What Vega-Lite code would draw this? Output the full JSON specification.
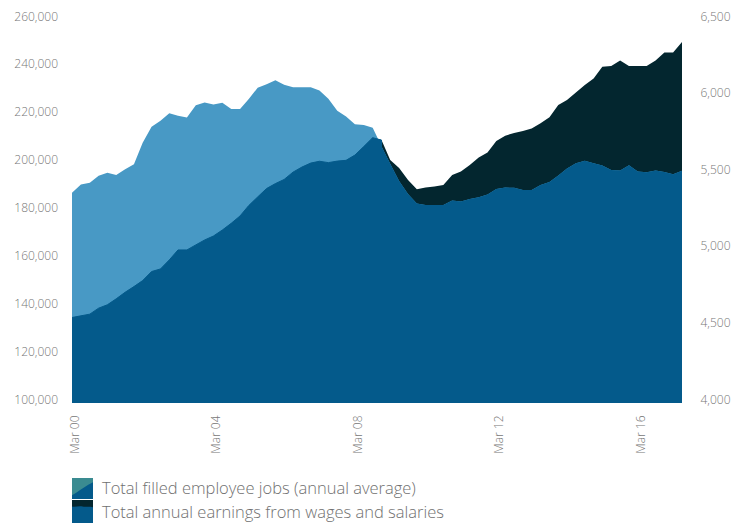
{
  "$schema": "https://vega.github.io/schema/vega-lite/v6.json",
  "autosize": "none",
  "width": 610,
  "height": 383,
  "padding": {"left": 72, "top": 20, "right": 68, "bottom": 124},
  "background": "white",
  "config": {
    "view": {"stroke": null},
    "font": "Open Sans"
  },
  "data": {
    "format": {"parse": {"date": "date"}},
    "values": [
      {"date": "2000/03/01", "jobs": 187800, "earnings": 4558},
      {"date": "2000/06/01", "jobs": 191300, "earnings": 4569},
      {"date": "2000/09/01", "jobs": 192000, "earnings": 4580},
      {"date": "2000/12/01", "jobs": 194900, "earnings": 4619},
      {"date": "2001/03/01", "jobs": 196200, "earnings": 4641},
      {"date": "2001/06/01", "jobs": 195200, "earnings": 4680},
      {"date": "2001/09/01", "jobs": 197600, "earnings": 4723},
      {"date": "2001/12/01", "jobs": 199700, "earnings": 4760},
      {"date": "2002/03/01", "jobs": 208700, "earnings": 4799},
      {"date": "2002/06/01", "jobs": 215400, "earnings": 4858},
      {"date": "2002/09/01", "jobs": 217900, "earnings": 4875},
      {"date": "2002/12/01", "jobs": 221000, "earnings": 4934},
      {"date": "2003/03/01", "jobs": 220000, "earnings": 4999},
      {"date": "2003/06/01", "jobs": 219300, "earnings": 4999},
      {"date": "2003/09/01", "jobs": 224400, "earnings": 5032},
      {"date": "2003/12/01", "jobs": 225500, "earnings": 5064},
      {"date": "2004/03/01", "jobs": 224700, "earnings": 5090},
      {"date": "2004/06/01", "jobs": 225400, "earnings": 5129},
      {"date": "2004/09/01", "jobs": 222800, "earnings": 5173},
      {"date": "2004/12/01", "jobs": 222800, "earnings": 5221},
      {"date": "2005/03/01", "jobs": 227000, "earnings": 5289},
      {"date": "2005/06/01", "jobs": 231700, "earnings": 5345},
      {"date": "2005/09/01", "jobs": 233200, "earnings": 5400},
      {"date": "2005/12/01", "jobs": 234800, "earnings": 5432},
      {"date": "2006/03/01", "jobs": 233000, "earnings": 5459},
      {"date": "2006/06/01", "jobs": 231900, "earnings": 5507},
      {"date": "2006/09/01", "jobs": 231900, "earnings": 5540},
      {"date": "2006/12/01", "jobs": 231900, "earnings": 5566},
      {"date": "2007/03/01", "jobs": 230500, "earnings": 5578},
      {"date": "2007/06/01", "jobs": 227100, "earnings": 5569},
      {"date": "2007/09/01", "jobs": 222100, "earnings": 5579},
      {"date": "2007/12/01", "jobs": 219700, "earnings": 5584},
      {"date": "2008/03/01", "jobs": 216400, "earnings": 5618},
      {"date": "2008/06/01", "jobs": 216100, "earnings": 5674},
      {"date": "2008/09/01", "jobs": 215000, "earnings": 5732},
      {"date": "2008/12/01", "jobs": 207300, "earnings": 5716},
      {"date": "2009/03/01", "jobs": 200000, "earnings": 5586},
      {"date": "2009/06/01", "jobs": 192700, "earnings": 5534},
      {"date": "2009/09/01", "jobs": 187300, "earnings": 5455},
      {"date": "2009/12/01", "jobs": 183300, "earnings": 5395},
      {"date": "2010/03/01", "jobs": 182700, "earnings": 5406},
      {"date": "2010/06/01", "jobs": 182700, "earnings": 5414},
      {"date": "2010/09/01", "jobs": 182700, "earnings": 5423},
      {"date": "2010/12/01", "jobs": 184600, "earnings": 5488},
      {"date": "2011/03/01", "jobs": 184200, "earnings": 5511},
      {"date": "2011/06/01", "jobs": 185200, "earnings": 5553},
      {"date": "2011/09/01", "jobs": 186000, "earnings": 5602},
      {"date": "2011/12/01", "jobs": 187100, "earnings": 5635},
      {"date": "2012/03/01", "jobs": 189400, "earnings": 5711},
      {"date": "2012/06/01", "jobs": 190000, "earnings": 5745},
      {"date": "2012/09/01", "jobs": 189900, "earnings": 5762},
      {"date": "2012/12/01", "jobs": 189000, "earnings": 5775},
      {"date": "2013/03/01", "jobs": 189000, "earnings": 5792},
      {"date": "2013/06/01", "jobs": 191100, "earnings": 5826},
      {"date": "2013/09/01", "jobs": 192300, "earnings": 5866},
      {"date": "2013/12/01", "jobs": 195000, "earnings": 5945},
      {"date": "2014/03/01", "jobs": 198000, "earnings": 5977},
      {"date": "2014/06/01", "jobs": 200200, "earnings": 6026},
      {"date": "2014/09/01", "jobs": 201200, "earnings": 6076},
      {"date": "2014/12/01", "jobs": 200200, "earnings": 6118},
      {"date": "2015/03/01", "jobs": 199200, "earnings": 6195},
      {"date": "2015/06/01", "jobs": 197300, "earnings": 6200},
      {"date": "2015/09/01", "jobs": 197100, "earnings": 6235},
      {"date": "2015/12/01", "jobs": 199300, "earnings": 6200},
      {"date": "2016/03/01", "jobs": 196700, "earnings": 6200},
      {"date": "2016/06/01", "jobs": 196400, "earnings": 6200},
      {"date": "2016/09/01", "jobs": 197100, "earnings": 6235},
      {"date": "2016/12/01", "jobs": 196500, "earnings": 6288},
      {"date": "2017/03/01", "jobs": 195600, "earnings": 6288},
      {"date": "2017/06/01", "jobs": 197000, "earnings": 6357}
    ]
  },
  "encoding": {
    "x": {
      "field": "date",
      "type": "temporal",
      "scale": {
        "domain": [{"year": 2000, "month": 3, "date": 1}, {"year": 2017, "month": 6, "date": 1}],
        "nice": false
      },
      "axis": {
        "title": null,
        "values": [
          {"year": 2000, "month": 3, "date": 1},
          {"year": 2004, "month": 3, "date": 1},
          {"year": 2008, "month": 3, "date": 1},
          {"year": 2012, "month": 3, "date": 1},
          {"year": 2016, "month": 3, "date": 1}
        ],
        "format": "%b %y",
        "labelAngle": -90,
        "labelPadding": 12,
        "labelOffset": 2.5,
        "ticks": false,
        "tickSize": 0,
        "domain": false,
        "grid": false,
        "labelFont": "Open Sans",
        "labelFontSize": 12,
        "labelFontWeight": 300,
        "labelColor": "#777777"
      }
    }
  },
  "layer": [
    {
      "mark": {"type": "area", "color": "#03262f", "interpolate": "linear"},
      "encoding": {
        "y": {
          "field": "earnings",
          "type": "quantitative",
          "scale": {"domain": [4000, 6500], "zero": false, "nice": false},
          "axis": {
            "orient": "right",
            "title": null,
            "values": [4000, 4500, 5000, 5500, 6000, 6500],
            "format": ",d",
            "labelPadding": 18,
            "labelOffset": -4,
            "ticks": false,
            "tickSize": 0,
            "domain": false,
            "grid": false,
            "labelFont": "Open Sans",
            "labelFontSize": 12,
            "labelFontWeight": 300,
            "labelColor": "#777777"
          }
        },
        "y2": {"datum": 4000}
      }
    },
    {
      "mark": {"type": "area", "color": "#4899c5", "interpolate": "linear"},
      "encoding": {
        "y": {
          "field": "jobs",
          "type": "quantitative",
          "scale": {"domain": [100000, 260000], "zero": false, "nice": false},
          "axis": {
            "orient": "left",
            "title": null,
            "values": [100000, 120000, 140000, 160000, 180000, 200000, 220000, 240000, 260000],
            "format": ",d",
            "labelPadding": 14.5,
            "labelOffset": -4,
            "ticks": false,
            "tickSize": 0,
            "domain": false,
            "grid": false,
            "labelFont": "Open Sans",
            "labelFontSize": 12,
            "labelFontWeight": 300,
            "labelColor": "#777777"
          }
        },
        "y2": {"datum": 100000}
      }
    },
    {
      "transform": [{"filter": "datum.date <= datetime(2008, 11, 1)"}],
      "mark": {"type": "area", "color": "#045a8b", "stroke": "#045a8b", "strokeWidth": 1, "interpolate": "linear", "clip": true},
      "encoding": {
        "y": {
          "field": "earnings",
          "type": "quantitative",
          "scale": {"domain": [4000, 6500], "zero": false, "nice": false},
          "axis": null
        },
        "y2": {"datum": 4000}
      }
    },
    {
      "transform": [{"filter": "datum.date >= datetime(2008, 11, 1)"}],
      "mark": {"type": "area", "color": "#045a8b", "interpolate": "linear"},
      "encoding": {
        "y": {
          "field": "jobs",
          "type": "quantitative",
          "scale": {"domain": [100000, 260000], "zero": false, "nice": false},
          "axis": null
        },
        "y2": {"datum": 100000}
      }
    },
    {
      "transform": [{"filter": "false"}],
      "mark": {"type": "square", "opacity": 1, "filled": true},
      "encoding": {
        "color": {
          "datum": "Total filled employee jobs (annual average)",
          "type": "nominal",
          "scale": {
            "domain": ["Total filled employee jobs (annual average)", "Total annual earnings from wages and salaries"],
            "range": ["#045a8b", "#045a8b"]
          },
          "legend": {
            "title": null,
            "orient": "none",
            "legendX": 0,
            "legendY": 458,
            "symbolType": "square",
            "symbolSize": 441,
            "symbolStrokeWidth": 0,
            "symbolOpacity": 1,
            "rowPadding": 3,
            "labelOffset": 9,
            "labelFont": "Open Sans",
            "labelFontSize": 16.5,
            "labelFontWeight": 300,
            "labelColor": "#707070",
            "labelLimit": 600
          }
        }
      }
    },
    {
      "transform": [{"filter": "false"}],
      "mark": {"type": "square", "opacity": 1, "filled": true},
      "encoding": {
        "color": {
          "datum": "Total filled employee jobs (annual average)",
          "type": "nominal",
          "scale": {
            "domain": ["Total filled employee jobs (annual average)", "Total annual earnings from wages and salaries"],
            "range": ["#3a8b91", "transparent"]
          },
          "legend": {
            "title": null,
            "orient": "none",
            "legendX": 0,
            "legendY": 458,
            "symbolType": "M-1,-1H1V-0.6C0.45,-0.35 -0.35,0.25 -1,0.65Z",
            "symbolSize": 441,
            "symbolStrokeWidth": 0,
            "symbolOpacity": 1,
            "rowPadding": 3,
            "labelOffset": 9,
            "labelExpr": "''",
            "labelFontSize": 16.5
          }
        }
      }
    },
    {
      "transform": [{"filter": "false"}],
      "mark": {"type": "square", "opacity": 1, "filled": true},
      "encoding": {
        "color": {
          "datum": "Total annual earnings from wages and salaries",
          "type": "nominal",
          "scale": {
            "domain": ["Total filled employee jobs (annual average)", "Total annual earnings from wages and salaries"],
            "range": ["transparent", "#03262f"]
          },
          "legend": {
            "title": null,
            "orient": "none",
            "legendX": 0,
            "legendY": 458,
            "symbolType": "M-1,-1H1V-0.3C0.6,-0.42 0.3,-0.3 0,-0.38C-0.35,-0.46 -0.7,-0.3 -1,-0.38Z",
            "symbolSize": 441,
            "symbolStrokeWidth": 0,
            "symbolOpacity": 1,
            "rowPadding": 3,
            "labelOffset": 9,
            "labelExpr": "''",
            "labelFontSize": 16.5
          }
        }
      }
    }
  ],
  "resolve": {
    "scale": {"y": "independent", "color": "independent"},
    "axis": {"y": "independent"},
    "legend": {"color": "independent"}
  }
}
